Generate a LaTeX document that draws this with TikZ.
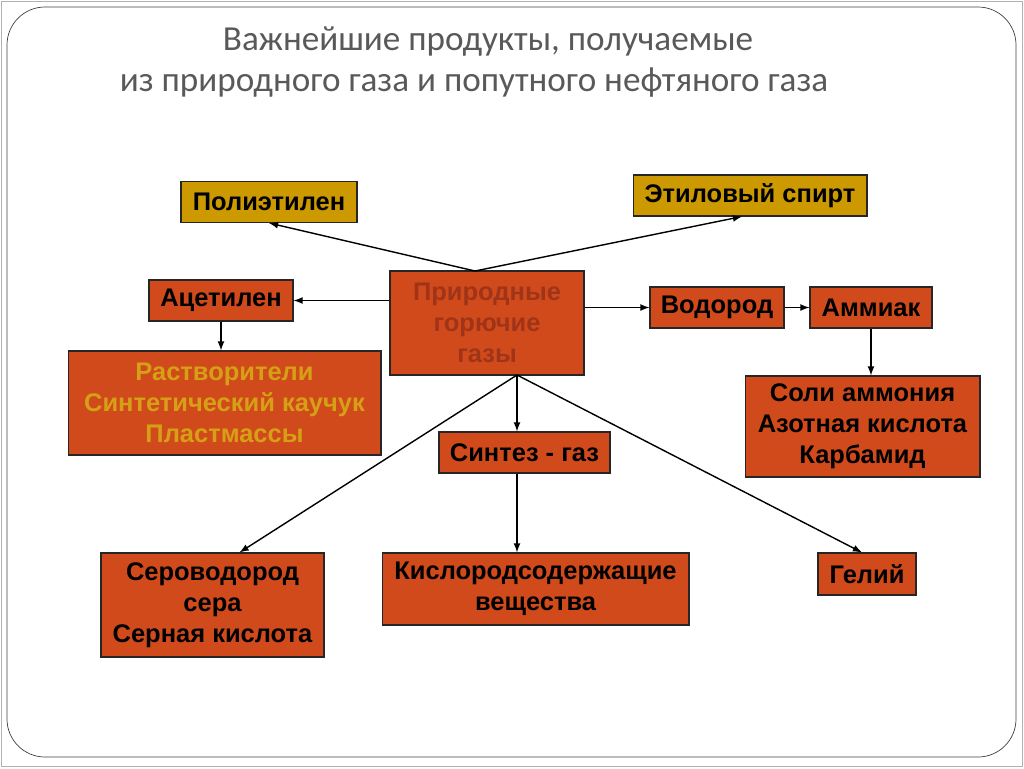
\documentclass[tikz,border=0pt]{standalone}
\usepackage{fontspec}
\setmainfont{Liberation Sans}
\newfontfamily\titlefont{Carlito}
\usepackage{xcolor}
\usetikzlibrary{arrows,positioning,calc}
\definecolor{boxred}{RGB}{209,74,27}
\definecolor{boxgold}{RGB}{204,153,0}
\definecolor{srctext}{RGB}{160,52,24}
\definecolor{goldtext}{RGB}{214,160,22}
\definecolor{titlegray}{RGB}{89,89,89}
\tikzset{
	prod/.style={draw=black!85, fill=boxred, line width=0.6pt, inner sep=0pt, align=center,
		font=\bfseries\fontsize{14.5}{17.6}\selectfont},
	goldbox/.style={prod, fill=boxgold},
	arr/.style={-latex, line width=0.8pt}
}

\begin{document}
\begin{tikzpicture}[x=0.02cm,y=-0.02cm]
	\useasboundingbox (0,0) rectangle (1024,768);
	\draw[gray!60] (1,1) rectangle (1022,766);
	\draw[black!75,rounded corners=0.76cm] (7,7) rectangle (1016,757);
	% title
	\node[font=\titlefont\fontsize{20}{24}\selectfont,text=titlegray] (t1) at (488,42) {Важнейшие продукты, получаемые};
	\node[font=\titlefont\fontsize{20}{24}\selectfont,text=titlegray] (t2) at (474,83) {из природного газа и попутного нефтяного газа};
	% boxes
	\node[goldbox,minimum width=3.52cm,minimum height=0.82cm] (poly) at (269,202) {Полиэтилен};
	\node[goldbox,minimum width=4.68cm,minimum height=0.82cm] (spirt) at (750,195.5) {Этиловый спирт};
	\node[prod,minimum width=2.88cm,minimum height=0.82cm] (acet) at (221,300.5) {Ацетилен};
	\node[prod,minimum width=3.88cm,minimum height=2.08cm,text=srctext] (gas) at (487,323) {Природные\\горючие\\газы};
	\node[prod,minimum width=6.26cm,minimum height=2.08cm,text=goldtext] (rastv) at (224.5,403) {Растворители\\Синтетический каучук\\Пластмассы};
	\node[prod,minimum width=2.68cm,minimum height=0.82cm] (vodor) at (717,307.5) {Водород};
	\node[prod,minimum width=2.44cm,minimum height=0.82cm] (ammiak) at (871,307.5) {Аммиак};
	\node[prod,minimum width=4.70cm,minimum height=2.02cm] (soli) at (862.5,426.5) {Соли аммония\\Азотная кислота\\Карбамид};
	\node[prod,minimum width=3.42cm,minimum height=0.82cm] (sintez) at (524.5,452.5) {Синтез - газ};
	\node[prod,minimum width=4.46cm,minimum height=2.08cm] (serovod) at (212.5,605) {Сероводород\\сера\\Серная кислота};
	\node[prod,minimum width=6.14cm,minimum height=1.44cm] (kislor) at (535.5,589) {Кислородсодержащие\\вещества};
	\node[prod,minimum width=1.96cm,minimum height=0.84cm] (geliy) at (867,574) {Гелий};
	% junctions on the source box
	\coordinate (gtop) at (475,271);
	\coordinate (gbot) at (517,375);
	% arrows
	\draw[arr] (gtop) -- (poly.south);
	\draw[arr] (gtop) -- ($(spirt.south)+(-8,0)$);
	\draw[arr] (gas.west |- acet.east) -- (acet.east);
	\draw[arr] (acet.south) -- (acet.south |- rastv.north);
	\draw[arr] (gas.east |- vodor.west) -- (vodor.west);
	\draw[arr] (vodor.east) -- (ammiak.west);
	\draw[arr] (ammiak.south) -- (ammiak.south |- soli.north);
	\draw[arr] (gbot) -- (gbot |- sintez.north);
	\draw[arr] (gbot |- sintez.south) -- (gbot |- kislor.north);
	\draw[arr] (gbot) -- ($(serovod.north)+(27,0)$);
	\draw[arr] (gbot) -- ($(geliy.north)+(-5,0)$);
\end{tikzpicture}
\end{document}
